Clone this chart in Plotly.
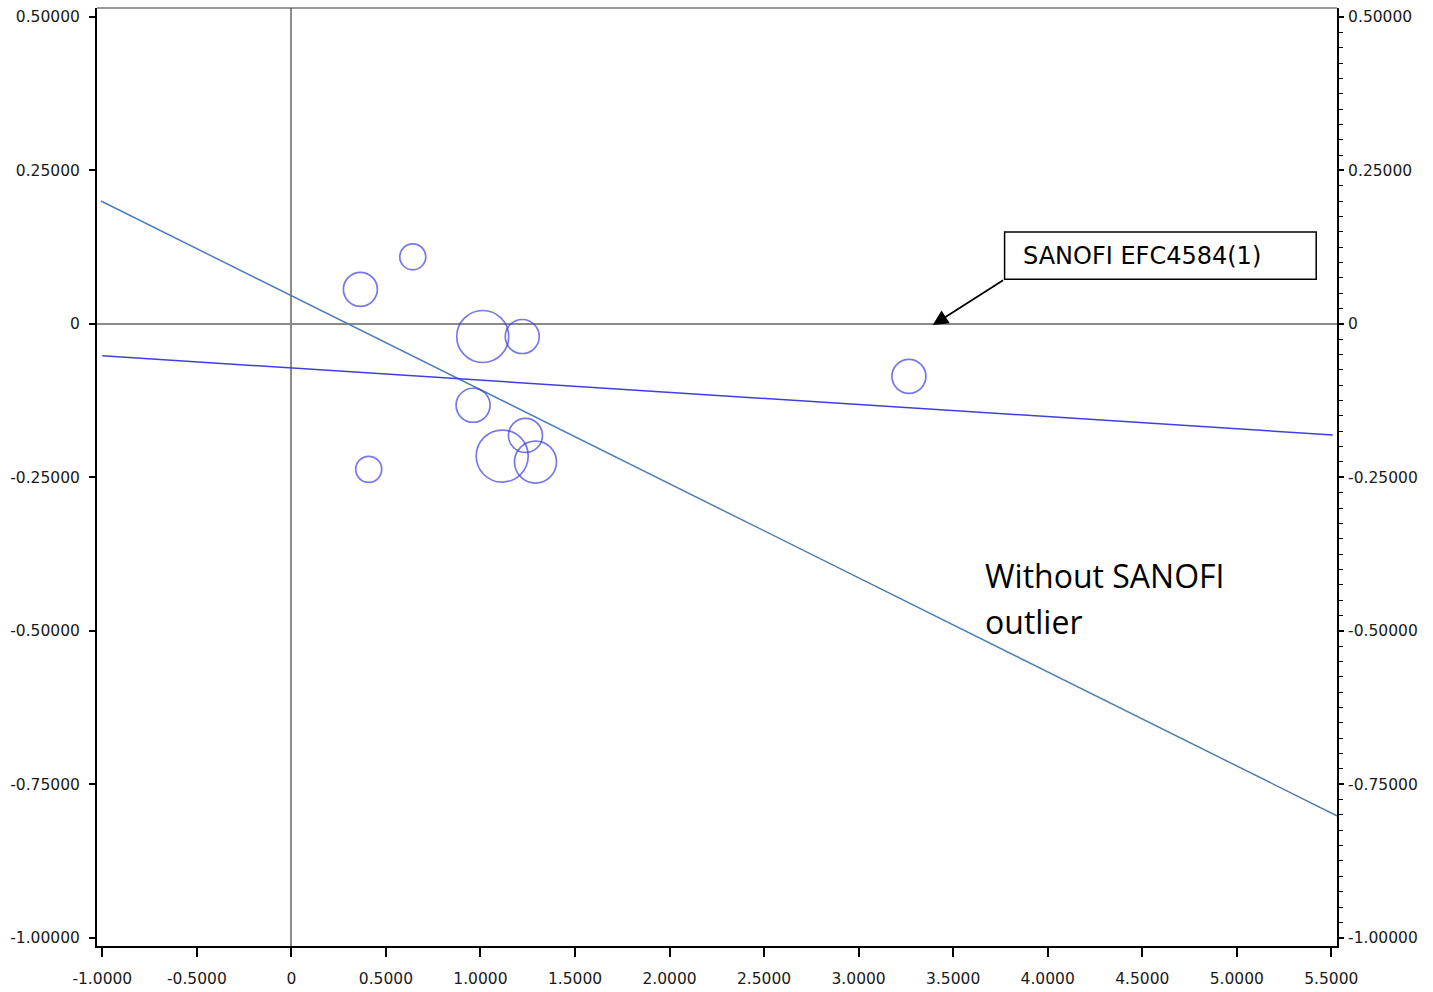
import plotly.graph_objects as go

# ---- data ----
study_x = [0.365, 0.642, 1.012, 1.221, 0.961, 1.238, 1.115, 1.291, 0.409, 3.266]
study_y = [0.0563, 0.1093, -0.0206, -0.0206, -0.1326, -0.1818, -0.2154, -0.2251, -0.237, -0.0855]
study_size = [34, 26, 52, 34, 34, 34, 52, 42, 26, 34]

fit_all_x = [-1.0, 5.508]
fit_all_y = [-0.052, -0.181]

fit_wo_x = [-1.007, 5.534]
fit_wo_y = [0.2002, -0.802]

x_ticks = [-1.0, -0.5, 0.0, 0.5, 1.0, 1.5, 2.0, 2.5, 3.0, 3.5, 4.0, 4.5, 5.0, 5.5]
y_ticks = [-1.0, -0.75, -0.5, -0.25, 0.0, 0.25, 0.5]
x_ticktext = ["0" if v == 0 else f"{v:.4f}" for v in x_ticks]
y_ticktext = ["0" if v == 0 else f"{v:.5f}" for v in y_ticks]

label_box = "SANOFI EFC4584(1)"
label_note = ["Without SANOFI", "outlier"]

X_RANGE = [-1.028, 5.530]
Y_RANGE = [-1.0135, 0.5146]

CIRCLE_BLUE = "#3f3fe0"
STEEL = "#4a7ebb"
TICKFONT = dict(family="DejaVu Sans", size=15.5, color="#1a1a1a")

fig = go.Figure()

fig.add_trace(go.Scatter(
    x=fit_wo_x, y=fit_wo_y, mode="lines",
    line=dict(color=STEEL, width=1.5), showlegend=False, hoverinfo="skip"))

fig.add_trace(go.Scatter(
    x=fit_all_x, y=fit_all_y, mode="lines",
    line=dict(color=CIRCLE_BLUE, width=1.5), showlegend=False, hoverinfo="skip",
    yaxis="y2"))

fig.add_trace(go.Scatter(
    x=study_x, y=study_y, mode="markers",
    marker=dict(symbol="circle-open", size=study_size, color=CIRCLE_BLUE,
                line=dict(width=1.7, color=CIRCLE_BLUE)),
    showlegend=False))

fig.update_layout(
    width=1433, height=992,
    margin=dict(l=97, r=96, t=8, b=46),
    paper_bgcolor="white", plot_bgcolor="white",
    xaxis=dict(
        range=X_RANGE, tickmode="array", tickvals=x_ticks, ticktext=x_ticktext,
        ticks="outside", ticklen=9, tickwidth=1.5, tickcolor="black",
        showline=True, linecolor="black", linewidth=2, automargin=False,
        showgrid=False, zeroline=True, zerolinecolor="#8a8a8a", zerolinewidth=1.5,
        tickfont=TICKFONT, ticklabelstandoff=8),
    yaxis=dict(
        range=Y_RANGE, tickmode="array", tickvals=y_ticks, ticktext=y_ticktext,
        ticks="outside", ticklen=6, tickwidth=1.5, tickcolor="black",
        showline=True, linecolor="black", linewidth=2, automargin=False,
        showgrid=False, zeroline=True, zerolinecolor="#8a8a8a", zerolinewidth=1.5,
        tickfont=TICKFONT, ticklabelstandoff=6),
    yaxis2=dict(
        range=Y_RANGE, overlaying="y", side="right", anchor="x",
        tickmode="array", tickvals=y_ticks, ticktext=y_ticktext,
        ticks="outside", ticklen=5, tickwidth=1.5, tickcolor="black",
        minor=dict(tickmode="linear", tick0=0, dtick=0.025, ticks="outside",
                   ticklen=4, tickwidth=1.2, tickcolor="black"),
        showline=True, linecolor="black", linewidth=2, automargin=False,
        showgrid=False, zeroline=False,
        tickfont=TICKFONT, ticklabelstandoff=1),
    shapes=[
        dict(type="line", xref="paper", yref="paper", x0=0, x1=1, y0=1, y1=1,
             line=dict(color="#333333", width=1.2)),
        dict(type="rect", xref="x", yref="y", x0=3.772, x1=5.420, y0=0.0726, y1=0.1498,
             line=dict(color="black", width=1.5), fillcolor="white", layer="above"),
    ],
    annotations=[
        dict(x=3.857, y=0.1112, xref="x", yref="y", text=label_box, showarrow=False,
             xanchor="left", yanchor="middle",
             font=dict(family="DejaVu Sans", size=24, color="black")),
        dict(x=3.392, y=-0.002, xref="x", yref="y", ax=3.772, ay=0.0726,
             axref="x", ayref="y", text="", showarrow=True,
             arrowhead=2, arrowsize=1.7, arrowwidth=1.8, arrowcolor="black", standoff=0),
        dict(x=3.66, y=-0.41, xref="x", yref="y", text=label_note[0], showarrow=False,
             xanchor="left", yanchor="middle",
             font=dict(family="Open Sans", size=32, color="black")),
        dict(x=3.66, y=-0.485, xref="x", yref="y", text=label_note[1], showarrow=False,
             xanchor="left", yanchor="middle",
             font=dict(family="Open Sans", size=32, color="black")),
    ],
)

fig.write_html("out.html")
